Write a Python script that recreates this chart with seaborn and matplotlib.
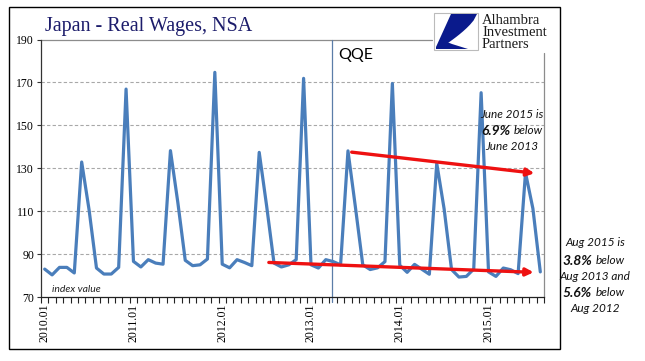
import numpy as np
import pandas as pd
import matplotlib
matplotlib.use("Agg")
import matplotlib.pyplot as plt
from matplotlib.patches import Rectangle, Polygon
import seaborn as sns

# Japan real wages, NSA, monthly index value 2010.01 - 2015.08
wages = [83.0, 80.3, 83.8, 83.8, 81.2, 132.9, 110.6, 83.5, 80.7, 80.7, 83.8, 166.9,
         86.6, 84.0, 87.4, 85.8, 85.3, 138.2, 114.0, 87.1, 84.6, 85.0, 87.7, 174.7,
         85.3, 83.6, 87.4, 86.1, 84.6, 137.4, 112.5, 85.8, 84.0, 85.0, 87.4, 171.9,
         85.0, 83.5, 87.4, 86.5, 85.0, 138.1, 112.0, 85.0, 82.8, 83.6, 86.5, 169.5,
         84.8, 81.5, 85.2, 82.9, 80.6, 132.3, 111.0, 82.8, 79.3, 79.6, 83.0, 165.2,
         81.7, 79.6, 83.5, 82.7, 80.9, 127.9, 111.2, 81.7]
tick_labels = ["2010.01", "2011.01", "2012.01", "2013.01", "2014.01", "2015.01"]
y_ticks = [70, 90, 110, 130, 150, 170, 190]

df = pd.DataFrame({"month": np.arange(len(wages)), "wage": wages})

W, H = 645, 361
sns.set_style("white")
plt.rcParams["text.color"] = "black"
plt.rcParams["xtick.color"] = "black"
plt.rcParams["ytick.color"] = "black"
fig = plt.figure(figsize=(W / 100, H / 100), dpi=100)

def px(x, y):
    # figure pixel -> figure fraction
    return (x / W, 1 - y / H)

ax_l, ax_r, ax_t, ax_b = 41, 544, 39.5, 297
ax = fig.add_axes([ax_l / W, 1 - ax_b / H, (ax_r - ax_l) / W, (ax_b - ax_t) / H])

sns.lineplot(data=df, x="month", y="wage", ax=ax, color="#4a7ebb", lw=2.3, zorder=3)

ax.set_xlim(-0.45, len(wages) - 0.6)
ax.set_ylim(70, 190)
ax.set_xlabel("")
ax.set_ylabel("")

# axes look (excel style)
for s in ["top", "right"]:
    ax.spines[s].set_visible(False)
ax.spines["left"].set_color("#333333")
ax.spines["bottom"].set_color("#222222")
ax.spines["left"].set_linewidth(0.9)
ax.spines["bottom"].set_linewidth(0.9)
ax.plot([0, (432 - ax_l) / (ax_r - ax_l)], [1, 1], transform=ax.transAxes,
        color="#8c8c8c", lw=0.9, clip_on=False)
ax.plot([1, 1], [0, (ax_b - 53) / (ax_b - ax_t)], transform=ax.transAxes,
        color="#8c8c8c", lw=0.9, clip_on=False)

for yv in y_ticks[1:-1]:
    ax.axhline(yv, color="#a8a8a8", lw=0.8, ls=(0, (3, 2)), zorder=1)

ax.set_yticks(y_ticks)
ax.set_yticklabels([str(v) for v in y_ticks], family="Liberation Serif", fontsize=8.5)
ax.tick_params(axis="y", direction="out", length=3, width=0.8, pad=2, left=True, color="#333333")

ax.set_xticks(np.arange(0, len(wages), 12))
ax.set_xticklabels(tick_labels, rotation=90, family="Liberation Serif", fontsize=8.5,
                   va="top", ha="center")
ax.set_xticks(np.arange(-0.5, len(wages), 1), minor=True)
ax.tick_params(axis="x", which="major", length=0, pad=5)
ax.tick_params(axis="x", which="minor", direction="out", length=4, width=0.8,
               bottom=True, color="#222222")

# QQE marker
ax.axvline(38.9, ymin=-0.02, ymax=1, color="#5b7da8", lw=0.9, clip_on=False, zorder=2)
fig.text(*px(338, 55), "QQE", family="Lato", fontsize=11.5, va="center", ha="left")

# red trend arrows
arrow = dict(arrowstyle="-|>", color="#ee1111", lw=2.4, mutation_scale=11,
             shrinkA=0, shrinkB=0)
ax.annotate("", xy=(66.1, 81.5), xytext=(30.3, 86.1), arrowprops=arrow, zorder=4)
ax.annotate("", xy=(66.2, 127.7), xytext=(41.5, 137.5), arrowprops=arrow, zorder=4)

# annotations
it = dict(family="Lato", style="italic", fontsize=8.5, va="center", color="#111111")
fig.text(*px(512, 114), "June 2015 is", ha="center", **it)
fig.text(*px(511, 131), "6.9%", ha="right", weight="bold", **{**it, "fontsize": 10})
fig.text(*px(514, 131), "below", ha="left", **it)
fig.text(*px(512, 147), "June 2013", ha="center", **it)

fig.text(*px(595, 243), "Aug 2015 is", ha="center", **it)
fig.text(*px(592, 261), "3.8%", ha="right", weight="bold", **{**it, "fontsize": 10})
fig.text(*px(596, 261), "below", ha="left", **it)
fig.text(*px(595, 277), "Aug 2013 and", ha="center", **it)
fig.text(*px(592, 293), "5.6%", ha="right", weight="bold", **{**it, "fontsize": 10})
fig.text(*px(596, 293), "below", ha="left", **it)
fig.text(*px(595, 309), "Aug 2012", ha="center", **it)

fig.text(*px(52, 289), "index value", family="Lato", style="italic", fontsize=7.5,
         va="center", ha="left", color="#222222")

# title
fig.text(*px(45, 27), "Japan - Real Wages, NSA", family="Liberation Serif", fontsize=14.5,
         color="#1c1c6b", va="center", ha="left")

# logo: white box with navy swoosh
fig.patches.append(Rectangle(px(434, 50), 44 / W, 37 / H, transform=fig.transFigure,
                             facecolor="white", edgecolor="#bbbbbb", lw=0.8, zorder=5))
t = np.linspace(0, 1, 12)
curve = [px(477 - 38 * s, 14 + 35 * s ** 0.7) for s in t]
fig.patches.append(Polygon([px(451, 14)] + curve + [px(436, 49), px(436, 47)],
                           closed=True, transform=fig.transFigure, facecolor="#0a1a8c",
                           edgecolor="none", zorder=6))
fig.patches.append(Polygon([px(436, 49), px(468, 49), px(452, 44), px(442, 40)],
                           closed=True, transform=fig.transFigure, facecolor="#0a1a8c",
                           edgecolor="none", zorder=6))
for i, word in enumerate(["Alhambra", "Investment", "Partners"]):
    fig.text(*px(482, 21 + i * 12), word, family="Liberation Serif", fontsize=10.5,
             color="#1a1a1a", va="center", ha="left")

# outer frame
fig.patches.append(Rectangle(px(9, 349), (560 - 9) / W, (349 - 7) / H,
                             transform=fig.transFigure, fill=False, edgecolor="black", lw=1.0))

fig.savefig("out.png", dpi=100, facecolor="white")
